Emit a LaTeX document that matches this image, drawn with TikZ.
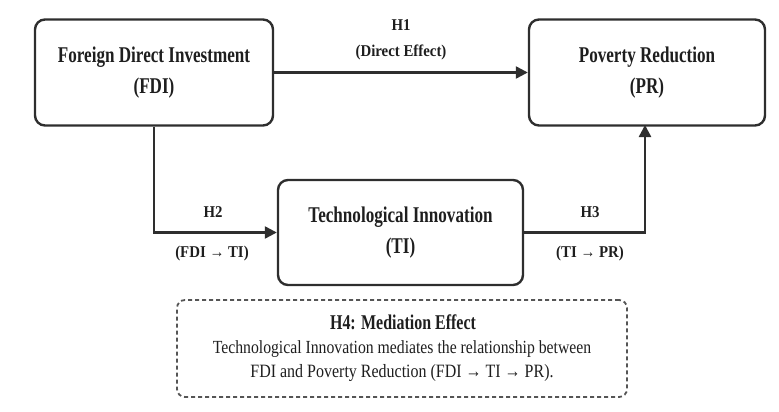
\documentclass[tikz,border=0pt]{standalone}
\usepackage{fontspec}
\setmainfont{Liberation Serif}[FakeStretch=0.76]
\newfontfamily\lblfont{Liberation Serif}[FakeStretch=0.9]
\newfontfamily\bodyfont{Liberation Serif}[FakeStretch=0.85]
\usetikzlibrary{arrows.meta}
\definecolor{ink}{HTML}{1E1E1E}
\definecolor{edge}{HTML}{2E2E2E}
\definecolor{dashc}{HTML}{555555}
\tikzset{
  boxnode/.style={draw=edge, line width=2.4pt, rounded corners=10pt, align=center,
    inner sep=0pt, text=ink, font=\fontsize{22.5}{31}\selectfont\bfseries},
  conn/.style={draw=edge, line width=2.4pt, -{Triangle[length=12pt,width=12pt]}},
  lbl/.style={text=ink, font=\lblfont\fontsize{16.5}{19}\selectfont\bfseries, inner sep=0pt},
  medbox/.style={draw=dashc, line width=1.8pt, dash pattern=on 4pt off 3pt, rounded corners=8pt,
    minimum width=450pt, minimum height=97pt, inner sep=0pt},
  medtext/.style={text=ink, align=center, inner sep=0pt}
}
\begin{document}
\begin{tikzpicture}[x=1pt,y=-1pt]
\useasboundingbox (0,0) rectangle (779,412);
\node[boxnode, minimum width=238pt, minimum height=106pt] (fdi) at (154,72.5)
  {Foreign Direct Investment\\(FDI)};
\node[boxnode, minimum width=236pt, minimum height=106pt] (pr) at (647,72.5)
  {Poverty Reduction\\(PR)};
\node[boxnode, minimum width=245pt, minimum height=105pt] (ti) at (400.5,232.5)
  {Technological Innovation\\(TI)};
\node[medbox] (med) at (402,348.5) {};
\node[medtext, font=\fontsize{21}{23}\selectfont\bfseries] (medtitle) at (403,322) {H4: Mediation Effect};
\node[medtext, font=\bodyfont\fontsize{18.5}{21}\selectfont] (medl1) at (402,349) {Technological Innovation mediates the relationship between};
\node[medtext, font=\bodyfont\fontsize{18.8}{21}\selectfont] (medl2) at (402,373) {FDI and Poverty Reduction (FDI → TI → PR).};
% connectors
\coordinate (c2) at (fdi.south |- ti.west);
\coordinate (c3b) at (645,125);
\coordinate (c3) at (c3b |- ti.east);
\draw[conn] (fdi.east) -- (pr.west);
\draw[conn] (fdi.south) -- (c2) -- (ti.west);
\draw[conn] (ti.east) -- (c3) -- (c3b);
% labels
\node[lbl] (h1) at (401,25) {H1};
\node[lbl] (h1b) at (401,52) {(Direct Effect)};
\node[lbl] (h2) at (213,212.5) {H2};
\node[lbl] (h2b) at (212,254) {(FDI → TI)};
\node[lbl] (h3) at (590,212.5) {H3};
\node[lbl] (h3b) at (590,254) {(TI → PR)};
\end{tikzpicture}
\end{document}
